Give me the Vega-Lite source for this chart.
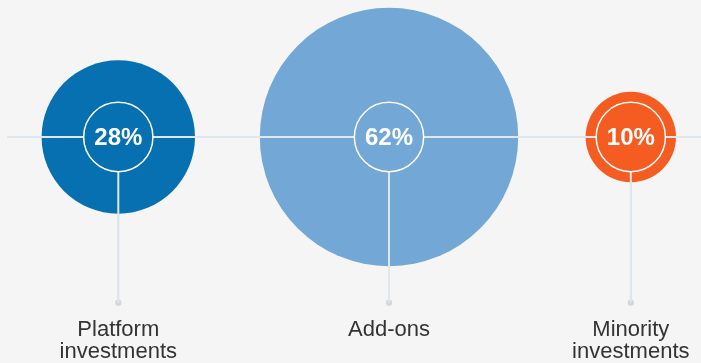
{
  "$schema": "https://vega.github.io/schema/vega-lite/v6.json",
  "width": 701,
  "height": 363,
  "autosize": {"type": "fit", "contains": "padding"},
  "padding": 0,
  "background": "#f5f5f5",
  "config": {"view": {"stroke": null}},
  "data": {
    "values": [
      {"rank": 1, "category": "Platform investments", "share": 0.28},
      {"rank": 2, "category": "Add-ons", "share": 0.62},
      {"rank": 3, "category": "Minority investments", "share": 0.10}
    ]
  },
  "encoding": {
    "x": {
      "field": "rank",
      "type": "quantitative",
      "axis": null,
      "scale": {"domain": [1, 2, 3], "range": [118.3, 389, 630.8], "nice": false, "zero": false}
    },
    "y": {"datum": 0, "type": "quantitative", "axis": null,
          "scale": {"domain": [-1.3639, 0.8268], "nice": false, "zero": false}}
  },
  "layer": [
    {
      "mark": {"type": "rule", "color": "#d8dbdd", "strokeWidth": 2},
      "encoding": {
        "x": {"datum": 0.59, "type": "quantitative"},
        "x2": {"datum": 3.3}
      }
    },
    {
      "mark": {"type": "rule", "color": "#d8dbdd", "strokeWidth": 2},
      "encoding": {
        "y2": {"datum": -1}
      }
    },
    {
      "mark": {"type": "circle", "color": "#d3d7da", "opacity": 1, "size": 40},
      "encoding": {
        "y": {"datum": -1, "type": "quantitative"}
      }
    },
    {
      "mark": {"type": "circle", "opacity": 1},
      "encoding": {
        "size": {"field": "share", "type": "quantitative", "legend": null,
                 "scale": {"type": "linear", "domain": [0.10, 0.28, 0.62], "range": [8172, 23532, 66772], "zero": false, "nice": false}},
        "color": {"field": "category", "type": "nominal", "legend": null,
                  "scale": {"domain": ["Platform investments", "Add-ons", "Minority investments"],
                            "range": ["#0670b0", "#73a7d5", "#f45c22"]}}
      }
    },
    {
      "mark": {"type": "rule", "color": "#dfe6ec", "blend": "lighten", "strokeWidth": 2},
      "encoding": {
        "x": {"datum": 0.59, "type": "quantitative"},
        "x2": {"datum": 3.3}
      }
    },
    {
      "mark": {"type": "rule", "color": "#dfe6ec", "blend": "lighten", "strokeWidth": 2},
      "encoding": {
        "y2": {"datum": -1}
      }
    },
    {
      "mark": {"type": "circle", "opacity": 1, "stroke": "white", "strokeWidth": 1.5, "size": 4800},
      "encoding": {
        "color": {"field": "category", "type": "nominal", "legend": null}
      }
    },
    {
      "mark": {"type": "text", "color": "white", "font": "Liberation Sans", "fontWeight": "bold", "fontSize": 24, "align": "center", "baseline": "alphabetic", "dy": 8},
      "encoding": {
        "text": {"field": "share", "type": "quantitative", "format": ".0%"}
      }
    },
    {
      "mark": {"type": "text", "color": "#333333", "font": "Liberation Sans", "fontSize": 22, "align": "center", "baseline": "alphabetic", "dy": 33, "lineBreak": " ", "lineHeight": 22},
      "encoding": {
        "y": {"datum": -1, "type": "quantitative"},
        "text": {"field": "category", "type": "nominal"}
      }
    }
  ]
}
